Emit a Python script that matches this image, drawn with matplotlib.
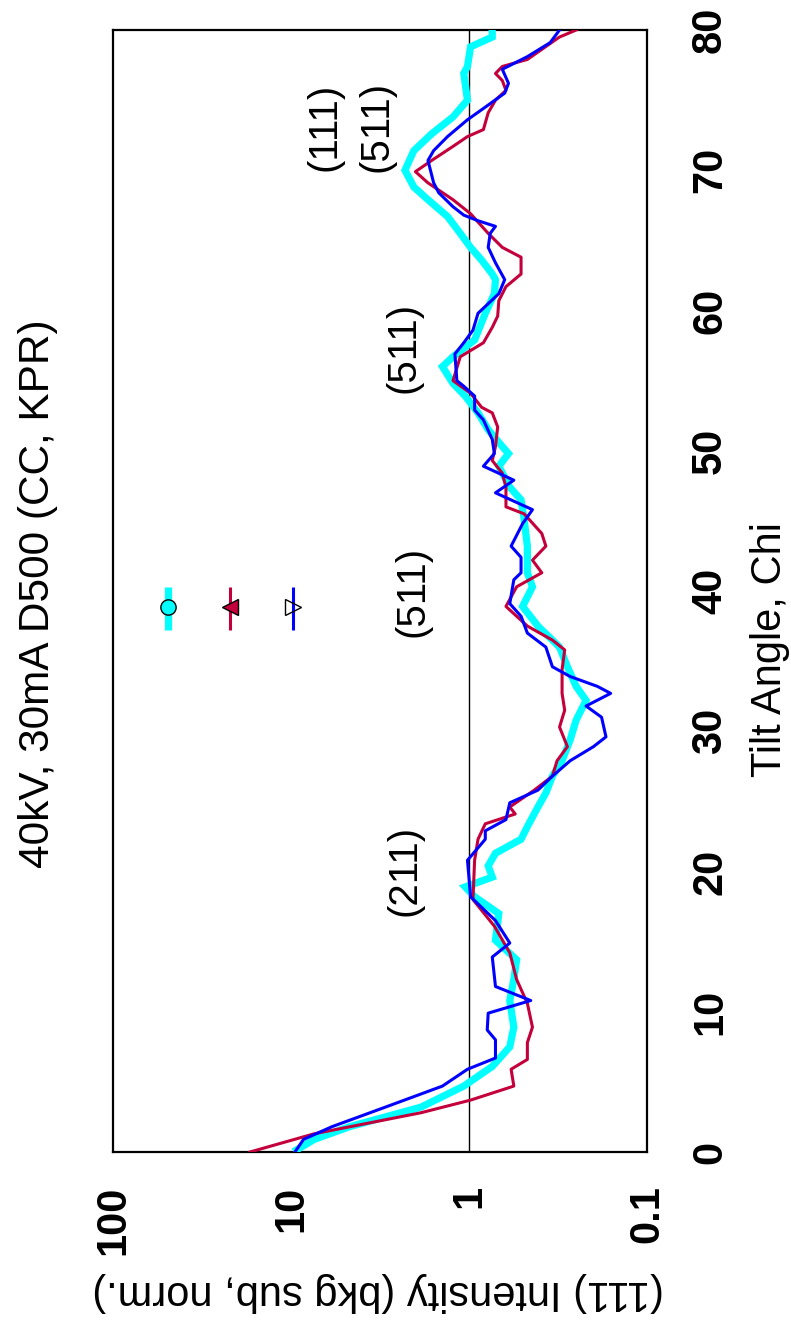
import matplotlib
matplotlib.use("Agg")
import matplotlib.pyplot as plt

plt.rcParams['font.family'] = ['Liberation Sans', 'DejaVu Sans']

# Tilt angle chi (deg) and background-subtracted, normalised (111) intensity
chi_cc = [0.15, 0.9, 1.8, 3.2, 4.7, 6.1, 7.5, 8.9, 10.8, 12.3, 13.7, 15.1, 17.0, 18.2,
          18.9, 19.6, 20.4, 21.3, 22.3, 23.2, 24.6, 25.6, 26.8, 27.9, 29.4, 30.8, 32.2,
          33.2, 34.6, 36.0, 37.5, 38.9, 40.3, 41.3, 43.2, 45.1, 46.5, 47.4, 48.9, 49.8,
          50.3, 51.5, 52.7, 53.9, 54.8, 56.0, 56.7, 57.9, 59.8, 61.2, 62.2, 62.6, 63.6,
          64.5, 65.5, 66.7, 67.9, 68.8, 70.0, 71.4, 72.6, 73.8, 75.0, 76.9, 77.4, 78.8,
          79.5, 80.0]
int_cc = [9.3, 7.4, 4.7, 1.86, 1.07, 0.74, 0.59, 0.56, 0.59, 0.56, 0.54, 0.71, 0.68, 0.93,
          1.05, 0.74, 0.78, 0.71, 0.51, 0.47, 0.41, 0.37, 0.34, 0.30, 0.27, 0.25, 0.22,
          0.25, 0.28, 0.31, 0.41, 0.50, 0.44, 0.47, 0.47, 0.49, 0.51, 0.59, 0.68, 0.60,
          0.65, 0.78, 0.89, 1.05, 1.23, 1.41, 1.23, 0.93, 0.81, 0.72, 0.71, 0.74, 0.85,
          0.98, 1.12, 1.32, 1.70, 2.04, 2.29, 2.04, 1.62, 1.23, 1.02, 1.07, 1.02, 0.98,
          0.74, 0.74]

chi_kpr = [0.0, 1.3, 2.8, 3.7, 4.7, 5.9, 6.6, 7.8, 8.9, 10.6, 12.3, 14.2, 16.1, 18.0,
           20.8, 22.3, 23.4, 24.1, 24.6, 25.8, 26.8, 27.9, 28.9, 30.3, 31.5, 32.7, 34.4,
           35.8, 36.5, 37.5, 38.9, 40.3, 41.3, 42.2, 43.2, 44.1, 45.5, 46.0, 47.4, 48.4,
           49.3, 50.3, 51.7, 52.7, 53.1, 54.1, 55.0, 56.7, 57.7, 58.8, 59.6, 60.7, 61.7,
           62.6, 63.8, 64.5, 65.5, 66.9, 67.9, 69.1, 69.9, 70.7, 71.7, 72.4, 72.9, 74.1,
           75.0, 75.7, 76.4, 76.9, 77.4, 77.9, 79.5, 80.0]
int_kpr = [17.0, 7.4, 1.86, 0.98, 0.56, 0.58, 0.47, 0.47, 0.44, 0.47, 0.54, 0.59, 0.72, 0.95,
           0.93, 0.89, 0.81, 0.55, 0.59, 0.43, 0.34, 0.32, 0.28, 0.31, 0.29, 0.30, 0.30,
           0.29, 0.34, 0.47, 0.62, 0.54, 0.39, 0.44, 0.37, 0.39, 0.49, 0.62, 0.62, 0.65,
           0.74, 0.71, 0.69, 0.74, 0.85, 0.98, 1.23, 1.12, 0.83, 0.74, 0.69, 0.68, 0.62,
           0.51, 0.51, 0.65, 0.78, 0.98, 1.23, 1.70, 2.00, 1.62, 1.23, 1.02, 0.83, 0.78,
           0.71, 0.62, 0.65, 0.71, 0.65, 0.47, 0.31, 0.25]

chi_d500 = [0.0, 0.9, 1.8, 3.2, 4.7, 5.9, 6.7, 8.0, 8.7, 9.9, 10.8, 11.8, 13.9, 14.9,
            16.5, 18.2, 20.8, 22.3, 22.9, 23.7, 24.9, 25.8, 26.8, 27.9, 28.9, 29.6, 31.0,
            31.8, 32.7, 33.2, 33.9, 34.6, 36.0, 37.0, 38.2, 39.1, 40.8, 41.3, 42.4, 43.2,
            44.8, 45.8, 47.0, 47.9, 48.9, 49.8, 50.8, 52.2, 52.9, 53.9, 54.6, 55.0, 56.9,
            57.7, 58.6, 59.8, 61.2, 62.2, 63.4, 64.5, 65.5, 66.0, 66.4, 66.8, 67.4, 68.4,
            69.1, 70.7, 71.4, 72.4, 73.6, 74.5, 75.5, 76.2, 77.2, 78.1, 79.1, 80.0]
int_d500 = [9.5, 8.5, 5.9, 2.95, 1.41, 1.02, 0.71, 0.71, 0.79, 0.78, 0.45, 0.71, 0.74, 0.59,
            0.71, 0.98, 1.02, 0.81, 0.81, 0.62, 0.59, 0.41, 0.34, 0.27, 0.20, 0.17, 0.18,
            0.22, 0.16, 0.19, 0.27, 0.34, 0.37, 0.47, 0.51, 0.59, 0.56, 0.51, 0.51, 0.58,
            0.50, 0.44, 0.71, 0.56, 0.83, 0.72, 0.74, 0.83, 0.93, 0.93, 1.07, 1.17, 1.20,
            1.07, 0.95, 0.89, 0.68, 0.63, 0.71, 0.78, 0.76, 0.71, 0.89, 1.07, 1.23, 1.48,
            1.58, 1.70, 1.58, 1.32, 1.02, 0.81, 0.63, 0.60, 0.65, 0.47, 0.35, 0.31]

# Peak labels: (text, chi, intensity)
peak_text = ["(111)", "(511)", "(511)", "(511)", "(211)"]
peak_chi = [73.1, 73.1, 57.4, 40.0, 20.1]
peak_int = [6.5, 3.3, 2.32, 2.09, 2.29]

x_ticks = [100, 10, 1, 0.1]
x_ticklabels = ["100", "10", "1", "0.1"]
y_ticks = [0, 10, 20, 30, 40, 50, 60, 70, 80]

CYAN = "#00FFFF"
CRIMSON = "#C4003C"
BLUE = "#0000FF"

W, H = 791, 1329
fig = plt.figure(figsize=(W / 100, H / 100), dpi=100)
ax = fig.add_axes([113 / W, 1 - 1152 / H, 534 / W, 1122 / H])

ax.plot(int_cc, chi_cc, color=CYAN, lw=5.2, solid_joinstyle="miter", zorder=3)
ax.plot(int_kpr, chi_kpr, color=CRIMSON, lw=2.2, zorder=4)
ax.plot(int_d500, chi_d500, color=BLUE, lw=2.2, zorder=5)

ax.axvline(1, color="black", lw=1.0, zorder=2)

ax.set_xscale("log")
ax.set_xlim(100, 0.1)
ax.set_ylim(0, 80)

ax.set_xticks(x_ticks)
ax.set_xticklabels(x_ticklabels, rotation=90, fontsize=30, fontweight="bold")
ax.xaxis.set_minor_locator(matplotlib.ticker.NullLocator())
ax.yaxis.tick_right()
ax.set_yticks(y_ticks)
ax.set_yticklabels([str(v) for v in y_ticks], rotation=90, fontsize=30,
                   fontweight="bold", va="center")
ax.tick_params(axis="x", length=0, pad=24)
ax.tick_params(axis="y", length=0, pad=31)
for sp in ax.spines.values():
    sp.set_linewidth(1.6)

for t, c, v in zip(peak_text, peak_chi, peak_int):
    ax.text(v, c, t, rotation=90, fontsize=29, ha="center", va="center", zorder=6)

# Key: short vertical segments with the series markers
key_x = [0.103, 0.219, 0.337]
key_y0, key_y1, key_ym = 0.465, 0.504, 0.486
ax.plot([key_x[0]] * 2, [key_y0, key_y1], transform=ax.transAxes, color=CYAN, lw=5.2,
        solid_capstyle="butt", zorder=6)
ax.plot([key_x[0]], [key_ym], transform=ax.transAxes, marker="o", ms=11,
        mfc=CYAN, mec="black", mew=1.0, zorder=7)
ax.plot([key_x[1]] * 2, [key_y0, key_y1], transform=ax.transAxes, color=CRIMSON, lw=2.2,
        solid_capstyle="butt", zorder=6)
ax.plot([key_x[1]], [key_ym], transform=ax.transAxes, marker="<", ms=11,
        mfc=CRIMSON, mec="black", mew=1.0, zorder=7)
ax.plot([key_x[2]] * 2, [key_y0, key_y1], transform=ax.transAxes, color=BLUE, lw=2.2,
        solid_capstyle="butt", zorder=6)
ax.plot([key_x[2]], [key_ym], transform=ax.transAxes, marker=">", ms=11,
        mfc="none", mec="black", mew=1.0, zorder=7)

fig.text(38 / W, 1 - 594 / H, "40kV, 30mA D500 (CC, KPR)", rotation=90,
         fontsize=30.5, ha="center", va="center")
fig.text(770 / W, 1 - 650 / H, "Tilt Angle, Chi", rotation=90,
         fontsize=30, ha="center", va="center")
fig.text(378 / W, 1 - 1292 / H, "(111) Intensity (bkg sub, norm.)", rotation=180,
         fontsize=30, ha="center", va="center")

fig.savefig("out.png", dpi=100, facecolor="white")
